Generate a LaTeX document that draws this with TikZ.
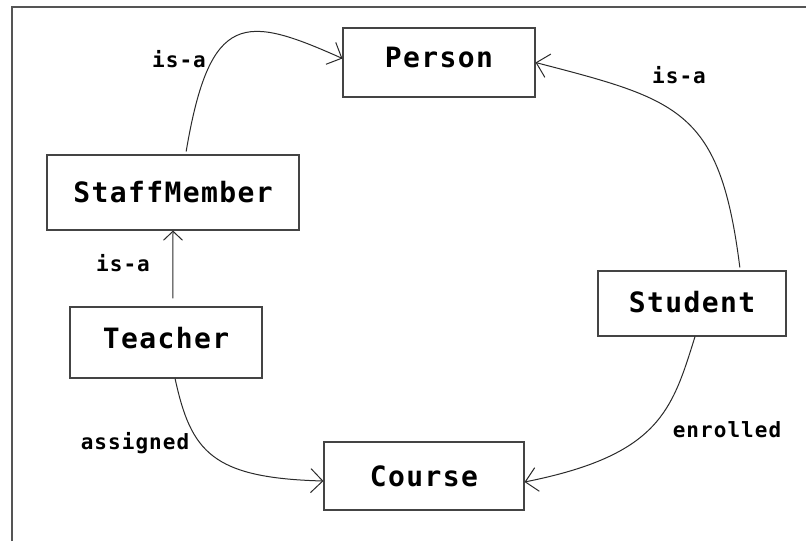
\documentclass[tikz,border=0pt]{standalone}
\usepackage{fontspec}
\usetikzlibrary{arrows.meta,calc}
\newfontfamily\dmono[LetterSpace=5]{DejaVu Sans Mono}
\definecolor{boxline}{HTML}{444444}
\definecolor{edgeline}{HTML}{2A2A2A}
\definecolor{frameline}{HTML}{555555}
\tikzset{
  classbox/.style={draw=boxline, line width=1.1pt, rectangle, inner sep=0pt,
    font=\dmono\bfseries\fontsize{28}{30}\selectfont, text=black},
  edgelabel/.style={inner sep=0pt, font=\dmono\bfseries\fontsize{21}{23}\selectfont, text=black},
  rel/.style={draw=edgeline, line width=1pt, -{Straight Barb[length=12pt,width=24pt]}},
  smallrel/.style={draw=edgeline, line width=1pt, -{Straight Barb[length=9pt,width=19pt]}},
}
\begin{document}
\begin{tikzpicture}[x=1pt,y=-1pt]
\useasboundingbox (0,0) rectangle (806,541);
\draw[frameline, line width=1.3pt] (12,541) -- (12,7) -- (806,7);

\node[classbox, minimum width=192pt, minimum height=69pt, text depth=10pt] (person) at (439,62.5) {Person};
\node[classbox, minimum width=252pt, minimum height=75pt] (staff) at (173,192.5) {StaffMember};
\node[classbox, minimum width=192pt, minimum height=71pt, text depth=10pt] (teacher) at (166,342.5) {Teacher};
\node[classbox, minimum width=188pt, minimum height=65pt, text depth=4pt] (student) at (692,303.5) {Student};
\node[classbox, minimum width=200pt, minimum height=68pt] (course) at (424,476) {Course};

% StaffMember -> Person
\draw[rel, shorten <=3pt] ($(staff.north west)!0.55!(staff.north east)$)
  .. controls (210,10) and (245,15) .. ([yshift=4pt]person.west);
% Student -> Person
\draw[rel, shorten <=3pt] ($(student.north west)!0.755!(student.north east)$)
  .. controls (720,110) and (680,100) .. (person.east);
% Teacher -> StaffMember
\draw[smallrel, shorten <=8pt] ($(teacher.north west)!0.536!(teacher.north east)$) -- (staff.south);
% Teacher -> Course
\draw[rel] ($(teacher.south west)!0.547!(teacher.south east)$)
  .. controls (191,452) and (212,478) .. ([yshift=-5pt]course.west);
% Student -> Course
\draw[rel] ($(student.south west)!0.516!(student.south east)$)
  .. controls (672,410) and (660,455) .. ([yshift=-6pt]course.east);

\node[edgelabel] (l1) at (179,59) {is-a};
\node[edgelabel] (l2) at (679,75) {is-a};
\node[edgelabel] (l3) at (123,263) {is-a};
\node[edgelabel] (l4) at (135,443) {assigned};
\node[edgelabel] (l5) at (727,430) {enrolled};
\end{tikzpicture}
\end{document}
